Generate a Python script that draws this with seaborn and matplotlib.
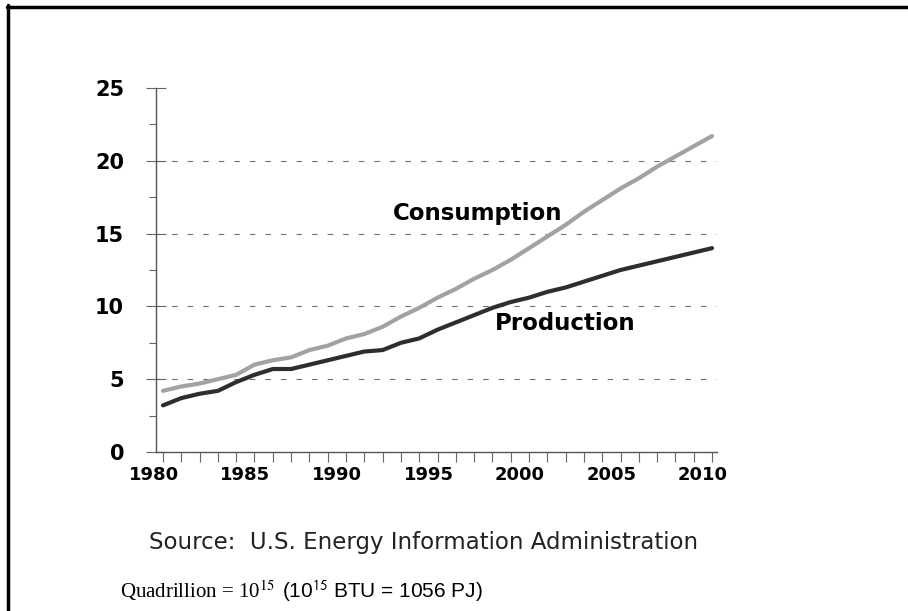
import numpy as np
import pandas as pd
import matplotlib
matplotlib.use('Agg')
import matplotlib.pyplot as plt
import seaborn as sns
from matplotlib.lines import Line2D
from matplotlib.ticker import MultipleLocator
from matplotlib.transforms import ScaledTranslation

# Datos (cuatrillones de BTU)
years = list(range(1980, 2011))
consumption = [4.2, 4.5, 4.7, 5.0, 5.3, 6.0, 6.3, 6.5, 7.0, 7.3,
               7.8, 8.1, 8.6, 9.3, 9.9, 10.6, 11.2, 11.9, 12.5, 13.2,
               14.0, 14.8, 15.6, 16.5, 17.3, 18.1, 18.8, 19.6, 20.3, 21.0,
               21.7]
production = [3.2, 3.7, 4.0, 4.2, 4.8, 5.3, 5.7, 5.7, 6.0, 6.3,
              6.6, 6.9, 7.0, 7.5, 7.8, 8.4, 8.9, 9.4, 9.9, 10.3,
              10.6, 11.0, 11.3, 11.7, 12.1, 12.5, 12.8, 13.1, 13.4, 13.7,
              14.0]
x_labels = [1980, 1985, 1990, 1995, 2000, 2005, 2010]
y_labels = [0, 5, 10, 15, 20, 25]

df = pd.DataFrame({'year': years * 2,
                   'value': consumption + production,
                   'serie': ['Consumption'] * len(years) + ['Production'] * len(years)})

sns.set_style('white')
plt.rcParams['font.family'] = ['DejaVu Sans']

fig = plt.figure(figsize=(9.08, 6.11), dpi=100)
ax = fig.add_axes([156 / 908, 1 - 452 / 611, (717 - 156) / 908, (452 - 88) / 611])

sns.lineplot(data=df, x='year', y='value', hue='serie',
             palette={'Consumption': '#a2a2a2', 'Production': '#2e2e2e'},
             linewidth=3, legend=False, ax=ax)

ax.set_xlim(1979.62, 2010.27)
ax.set_ylim(0, 25)
ax.set_xlabel('')
ax.set_ylabel('')

# Rejilla discontinua
for v in y_labels[1:-1]:
    ax.axhline(v, color='#707070', lw=0.8, ls=(0, (5, 9)), zorder=0)

ax.set_xticks(years)
ax.set_xticklabels([str(y) if y in x_labels else '' for y in years],
                   fontsize=13, fontweight='bold', color='black')
ax.set_yticks(y_labels)
ax.set_yticklabels([str(v) for v in y_labels], fontsize=15, fontweight='bold', color='black')
ax.yaxis.set_minor_locator(MultipleLocator(2.5))
ax.tick_params(axis='x', bottom=True, direction='out', length=7, width=0.8,
               color='#666666', pad=3)
ax.tick_params(axis='y', which='major', left=True, direction='inout', length=14, width=0.8,
               color='#666666', pad=16)
ax.tick_params(axis='y', which='minor', left=True, direction='out', length=5, width=0.8,
               color='#666666')

# las etiquetas del eje x estan algo desplazadas a la izquierda
shift = ScaledTranslation(-9 / 100, 0, fig.dpi_scale_trans)
for lbl in ax.get_xticklabels():
    lbl.set_transform(lbl.get_transform() + shift)

for s in ['top', 'right']:
    ax.spines[s].set_visible(False)
for s in ['left', 'bottom']:
    ax.spines[s].set_color('#555555')
    ax.spines[s].set_linewidth(1)

ax.text(1992.57, 16.35, 'Consumption', fontsize=16.5, fontweight='bold', va='center', color='black')
ax.text(1998.14, 8.85, 'Production', fontsize=16.5, fontweight='bold', va='center', color='black')

fig.text(149 / 908, 1 - 542 / 611, 'Source:  U.S. Energy Information Administration',
         fontsize=16.5, family='DejaVu Sans', va='center', color='#222222')
fig.text(120 / 908, 1 - 591 / 611, r'Quadrillion = 10$^{15}$',
         fontsize=15, family='Liberation Serif', math_fontfamily='stix', va='center', color='black')
fig.text(282 / 908, 1 - 591 / 611, r'(10$^{15}$ BTU = 1056 PJ)',
         fontsize=15, family='Liberation Sans', math_fontfamily='stixsans', va='center', color='black')

# Marco negro (arriba e izquierda)
fig.add_artist(Line2D([7 / 908, 1], [1 - 6.5 / 611, 1 - 6.5 / 611], color='black', lw=2.5))
fig.add_artist(Line2D([8 / 908, 8 / 908], [0, 1 - 5 / 611], color='black', lw=2.5))

fig.savefig('out.png', dpi=100, facecolor='white')
